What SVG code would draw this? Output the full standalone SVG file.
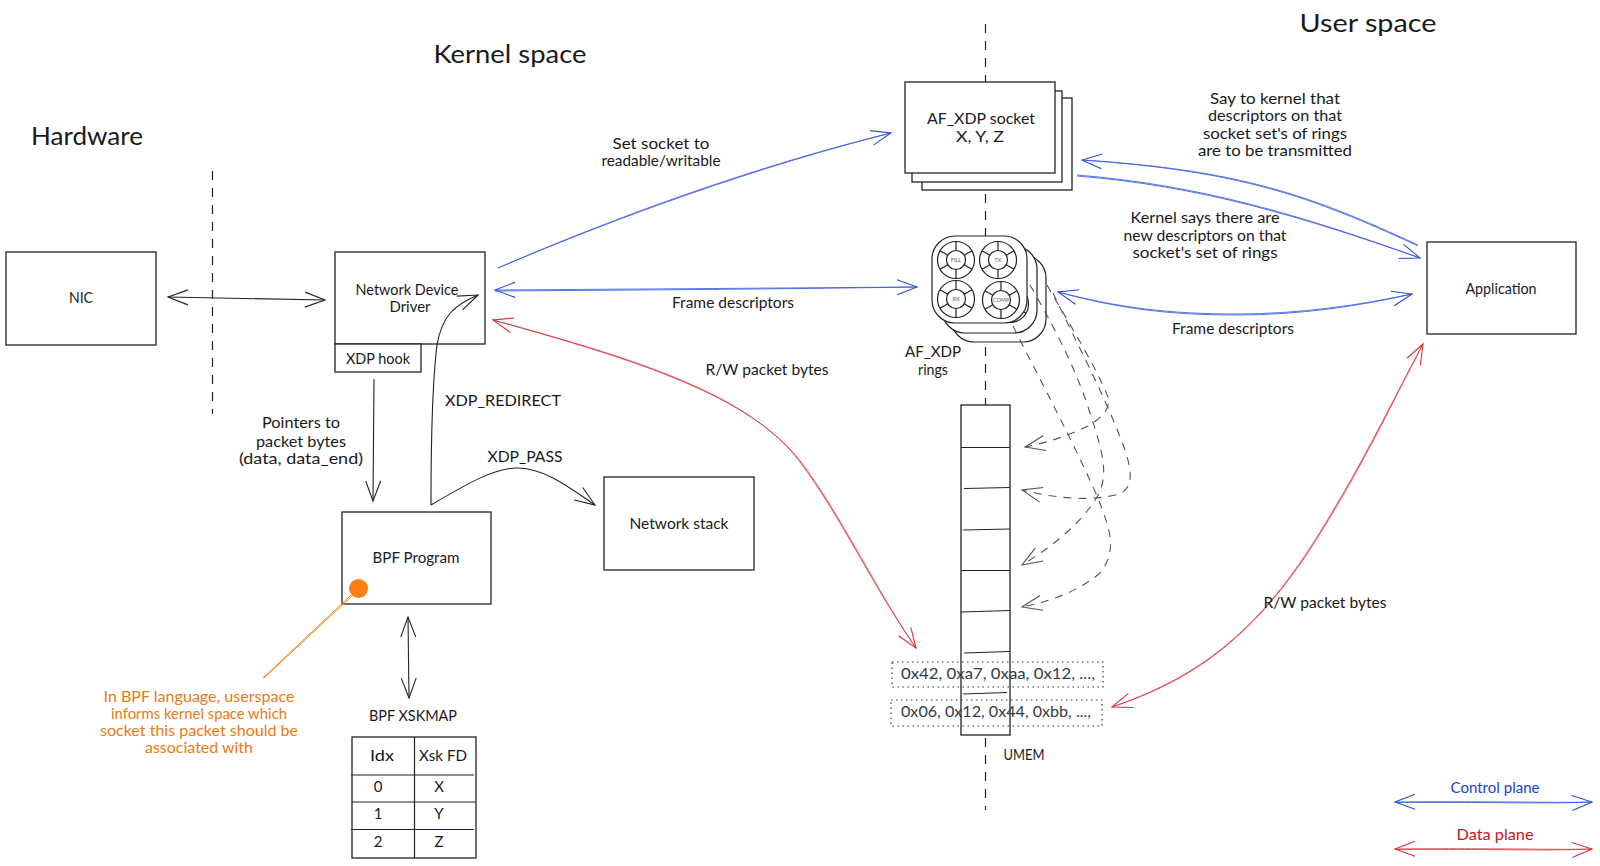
<svg xmlns="http://www.w3.org/2000/svg" width="1600" height="866" viewBox="0 0 1600 866">
<style>
text{font-family:"Lato","Liberation Sans",sans-serif;font-size:15px;fill:#1a1a1a;text-anchor:middle;dominant-baseline:central;transform:translateY(-1px)}
.h{font-size:25px}
.b{fill:#1d3fd0}.r{fill:#c9141e}.o{fill:#ea7a12;font-size:14.5px}.m{fill:#333b42}
.box{fill:#fff;stroke:#222;stroke-width:1.3}
.dot{fill:none;stroke:#333;stroke-width:1.2;stroke-dasharray:1.5 3.5}
.ln{fill:none;stroke:#222;stroke-width:1.2}
.axis{fill:none;stroke:#222;stroke-width:1.2;stroke-dasharray:9 8}
.k{fill:none;stroke:#222;stroke-width:1.1}
.bl{fill:none;stroke:#3a5ce0;stroke-width:.85}
.rd{fill:none;stroke:#dc3a44;stroke-width:.85}
.gr{fill:none;stroke:#4c555c;stroke-width:1.1;stroke-dasharray:8 7}
.or{fill:none;stroke:#f08a30;stroke-width:1}
.tiny{font-size:5.5px;fill:#555;transform:none}
</style>
<defs>
<marker id="ak" markerUnits="userSpaceOnUse" markerWidth="24" markerHeight="20" refX="21" refY="10" orient="auto-start-reverse"><path d="M1 2.5L21 10L1 17.5" fill="none" stroke="#222" stroke-width="1.1"/></marker>
<marker id="ab" markerUnits="userSpaceOnUse" markerWidth="24" markerHeight="20" refX="21" refY="10" orient="auto-start-reverse"><path d="M1 2.5L21 10L1 17.5" fill="none" stroke="#2a4fdc" stroke-width="1.1"/></marker>
<marker id="ar" markerUnits="userSpaceOnUse" markerWidth="24" markerHeight="20" refX="21" refY="10" orient="auto-start-reverse"><path d="M1 2.5L21 10L1 17.5" fill="none" stroke="#d8323c" stroke-width="1.1"/></marker>
<marker id="ag" markerUnits="userSpaceOnUse" markerWidth="24" markerHeight="20" refX="21" refY="10" orient="auto"><path d="M1 2.5L21 10L1 17.5" fill="none" stroke="#4c555c" stroke-width="1.1"/></marker>
<g id="ring" fill="#fff" stroke="#222" stroke-width="1.2"><circle r="18.500"/><circle r="9.500"/><path d="M0-18.500V-9.500M16-9.200L8.200-4.700M16 9.200L8.200 4.700M0 18.500V9.500M-16 9.200L-8.200 4.700M-16-9.200L-8.200-4.700"/></g>
<rect id="pad" width="95" height="87" rx="23" fill="#fff" stroke="#222" stroke-width="1.200"/>
</defs>
<rect width="1600" height="866" fill="#fff"/>
<g id="axes">
<path class="axis" d="M212.500 171V414"/>
<path class="axis" d="M985.500 24V810"/>
</g>
<g id="titles">
<text class="h" x="87" y="136" textLength="112" lengthAdjust="spacingAndGlyphs">Hardware</text>
<text class="h" x="510" y="54" textLength="153" lengthAdjust="spacingAndGlyphs">Kernel space</text>
<text class="h" x="1368" y="23" textLength="137" lengthAdjust="spacingAndGlyphs">User space</text>
</g>
<g id="nic"><rect class="box" x="6" y="252" width="150" height="93"/><text x="81" y="298" textLength="24" lengthAdjust="spacingAndGlyphs">NIC</text></g>
<g id="driver"><rect class="box" x="335" y="252" width="150" height="92"/><text x="407" y="290" textLength="103" lengthAdjust="spacingAndGlyphs">Network Device</text><text x="410" y="307" textLength="41" lengthAdjust="spacingAndGlyphs">Driver</text></g>
<g id="xdp-hook"><rect class="box" x="335" y="344" width="86" height="28"/><text x="378" y="358.500" textLength="64" lengthAdjust="spacingAndGlyphs">XDP hook</text></g>
<g id="bpf"><rect class="box" x="342" y="512" width="149" height="92"/><text x="416" y="558" textLength="87" lengthAdjust="spacingAndGlyphs">BPF Program</text><circle cx="358.500" cy="588.500" r="9.500" fill="#fd7e14"/></g>
<g id="netstack"><rect class="box" x="604" y="477" width="150" height="93"/><text x="679" y="524" textLength="99" lengthAdjust="spacingAndGlyphs">Network stack</text></g>
<g id="app"><rect class="box" x="1427" y="242" width="149" height="92"/><text x="1501" y="289" textLength="71" lengthAdjust="spacingAndGlyphs">Application</text></g>
<g id="socket">
<rect class="box" x="922" y="98" width="150" height="92"/>
<rect class="box" x="912" y="91" width="150" height="91"/>
<rect class="box" x="905" y="82" width="150" height="91"/>
<text x="981" y="119" textLength="108" lengthAdjust="spacingAndGlyphs">AF_XDP socket</text>
<text x="980" y="137" textLength="48" lengthAdjust="spacingAndGlyphs">X, Y, Z</text>
</g>
<g id="rings">
<use href="#pad" x="951" y="255"/>
<use href="#ring" x="1018" y="308"/>
<use href="#pad" x="942" y="246"/>
<use href="#ring" x="1010" y="304"/>
<use href="#pad" x="932" y="236"/>
<use href="#ring" x="956" y="260"/><use href="#ring" x="998" y="260"/><use href="#ring" x="956" y="299"/><use href="#ring" x="1001" y="300"/>
<text class="tiny" x="956" y="260">FILL</text><text class="tiny" x="998" y="260">TX</text><text class="tiny" x="956" y="299">RX</text><text class="tiny" x="1001" y="300">COMP</text>
<text x="933" y="352" textLength="56" lengthAdjust="spacingAndGlyphs">AF_XDP</text><text x="933" y="370" textLength="30" lengthAdjust="spacingAndGlyphs">rings</text>
</g>
<g id="umem">
<rect class="box" x="961" y="405" width="49" height="330"/>
<path class="ln" d="M961 447.500H1010M964 488.500L1010 487.500M963 530L1010 529M961 570.500H1010M961 612L1010 610.500M964 653L1010 651.500M963 694L1007 692.500"/>
<text x="1024" y="755" textLength="41" lengthAdjust="spacingAndGlyphs">UMEM</text>
</g>
<g id="bytes-1"><rect class="dot" x="892" y="662" width="211" height="25"/><text class="m" x="998" y="674" textLength="194" lengthAdjust="spacingAndGlyphs">0x42, 0xa7, 0xaa, 0x12, ...,</text></g>
<g id="bytes-2"><rect class="dot" x="891" y="700" width="211" height="26"/><text class="m" x="996" y="712" textLength="190" lengthAdjust="spacingAndGlyphs">0x06, 0x12, 0x44, 0xbb, ...,</text></g>
<g id="xskmap">
<text x="413" y="716" textLength="88" lengthAdjust="spacingAndGlyphs">BPF XSKMAP</text>
<rect class="box" x="352" y="737" width="124" height="121"/>
<path class="ln" d="M414.500 737V858M351 775H474M352 802H476M351 829.500H474"/>
<text x="382" y="756" textLength="24" lengthAdjust="spacingAndGlyphs">Idx</text><text x="443" y="756" textLength="48" lengthAdjust="spacingAndGlyphs">Xsk FD</text>
<text x="378" y="787">0</text><text x="439" y="787">X</text>
<text x="378" y="814">1</text><text x="439" y="814">Y</text>
<text x="378" y="842">2</text><text x="439" y="842">Z</text>
</g>
<g id="connectors">
<path class="k" marker-start="url(#ak)" marker-end="url(#ak)" d="M168 297L325 300"/>
<path class="k" marker-end="url(#ak)" d="M374 379L373 501"/>
<path class="k" marker-end="url(#ak)" d="M431 505C431 440 432 385 437 345C442 315 455 305 478 295"/>
<path class="k" marker-end="url(#ak)" d="M431 505C470 482 495 468 517 468C545 468 570 488 595 505"/>
<path class="k" marker-start="url(#ak)" marker-end="url(#ak)" d="M408 617L409 698"/>
<path class="bl" marker-end="url(#ab)" d="M498 268C620 215 760 165 891 133M498 268C620 216 760 166 891 133"/>
<path class="bl" marker-start="url(#ab)" marker-end="url(#ab)" d="M495 290C650 289 780 288 917 287M495 291C650 290 780 289 917 287"/>
<path class="bl" marker-end="url(#ab)" d="M1418 245C1310 195 1240 170 1082 160M1418 246C1310 196 1240 171 1082 160"/>
<path class="bl" marker-end="url(#ab)" d="M1077 175C1200 185 1300 215 1420 258M1077 176C1200 186 1300 216 1420 258"/>
<path class="bl" marker-start="url(#ab)" marker-end="url(#ab)" d="M1058 292C1120 308 1170 314 1237 314C1300 314 1360 305 1412 294M1058 292C1120 309 1170 315 1237 315C1300 315 1360 306 1412 294"/>
<path class="rd" marker-start="url(#ar)" marker-end="url(#ar)" d="M493 320C640 360 750 395 800 462C840 515 875 590 916 648M493 320C640 361 750 396 801 462C841 515 876 590 916 648"/>
<path class="rd" marker-start="url(#ar)" marker-end="url(#ar)" d="M1112 707C1190 680 1250 640 1310 548C1360 470 1390 405 1423 344M1112 707C1190 681 1250 641 1311 548C1361 470 1391 405 1423 344"/>
<path class="gr" marker-end="url(#ag)" d="M1047 285C1070 325 1095 365 1108 397C1110 408 1105 415 1090 425C1070 435 1050 442 1025 447"/>
<path class="gr" marker-end="url(#ag)" d="M1053 293C1075 340 1105 395 1125 450C1135 480 1130 492 1115 495C1085 502 1050 497 1022 490"/>
<path class="gr" marker-end="url(#ag)" d="M1030 285C1050 320 1075 365 1090 413C1102 450 1110 475 1097 497C1080 525 1050 548 1022 565"/>
<path class="gr" marker-end="url(#ag)" d="M1013 326C1040 380 1070 435 1098 498C1110 530 1118 550 1100 573C1080 590 1055 600 1022 607"/>
<path class="or" d="M351 595L263 678M352 596L264 678"/>
<path class="bl" marker-start="url(#ab)" marker-end="url(#ab)" d="M1395 802C1500 801 1550 803 1592 802M1395 802.500C1500 802 1550 804 1592 802"/>
<path class="rd" marker-start="url(#ar)" marker-end="url(#ar)" d="M1395 849C1500 848 1550 850 1592 849M1395 849.500C1500 849 1550 851 1592 849"/>
</g>
<g id="labels">
<text x="661" y="144" textLength="97" lengthAdjust="spacingAndGlyphs">Set socket to</text><text x="661" y="161" textLength="119" lengthAdjust="spacingAndGlyphs">readable/writable</text>
<text x="733" y="303" textLength="122" lengthAdjust="spacingAndGlyphs">Frame descriptors</text>
<text x="1233" y="329" textLength="122" lengthAdjust="spacingAndGlyphs">Frame descriptors</text>
<text x="767" y="370" textLength="123" lengthAdjust="spacingAndGlyphs">R/W packet bytes</text>
<text x="1325" y="603" textLength="123" lengthAdjust="spacingAndGlyphs">R/W packet bytes</text>
<text x="1275" y="99" textLength="130" lengthAdjust="spacingAndGlyphs">Say to kernel that</text>
<text x="1275" y="116" textLength="134" lengthAdjust="spacingAndGlyphs">descriptors on that</text>
<text x="1275" y="134" textLength="144" lengthAdjust="spacingAndGlyphs">socket set's of rings</text>
<text x="1275" y="151" textLength="154" lengthAdjust="spacingAndGlyphs">are to be transmitted</text>
<text x="1205" y="218" textLength="149" lengthAdjust="spacingAndGlyphs">Kernel says there are</text>
<text x="1205" y="236" textLength="163" lengthAdjust="spacingAndGlyphs">new descriptors on that</text>
<text x="1205" y="253" textLength="145" lengthAdjust="spacingAndGlyphs">socket's set of rings</text>
<text x="301" y="423" textLength="78" lengthAdjust="spacingAndGlyphs">Pointers to</text>
<text x="301" y="442" textLength="90" lengthAdjust="spacingAndGlyphs">packet bytes</text>
<text x="301" y="459" textLength="124" lengthAdjust="spacingAndGlyphs">(data, data_end)</text>
<text x="503" y="401" textLength="116" lengthAdjust="spacingAndGlyphs">XDP_REDIRECT</text>
<text x="525" y="457" textLength="75" lengthAdjust="spacingAndGlyphs">XDP_PASS</text>
<text class="o" x="199" y="697" textLength="191" lengthAdjust="spacingAndGlyphs">In BPF language, userspace</text>
<text class="o" x="199" y="714" textLength="176" lengthAdjust="spacingAndGlyphs">informs kernel space which</text>
<text class="o" x="199" y="731" textLength="198" lengthAdjust="spacingAndGlyphs">socket this packet should be</text>
<text class="o" x="199" y="748" textLength="108" lengthAdjust="spacingAndGlyphs">associated with</text>
<text class="b" x="1495" y="788" textLength="89" lengthAdjust="spacingAndGlyphs">Control plane</text>
<text class="r" x="1495" y="835" textLength="77" lengthAdjust="spacingAndGlyphs">Data plane</text>
</g>
</svg>
